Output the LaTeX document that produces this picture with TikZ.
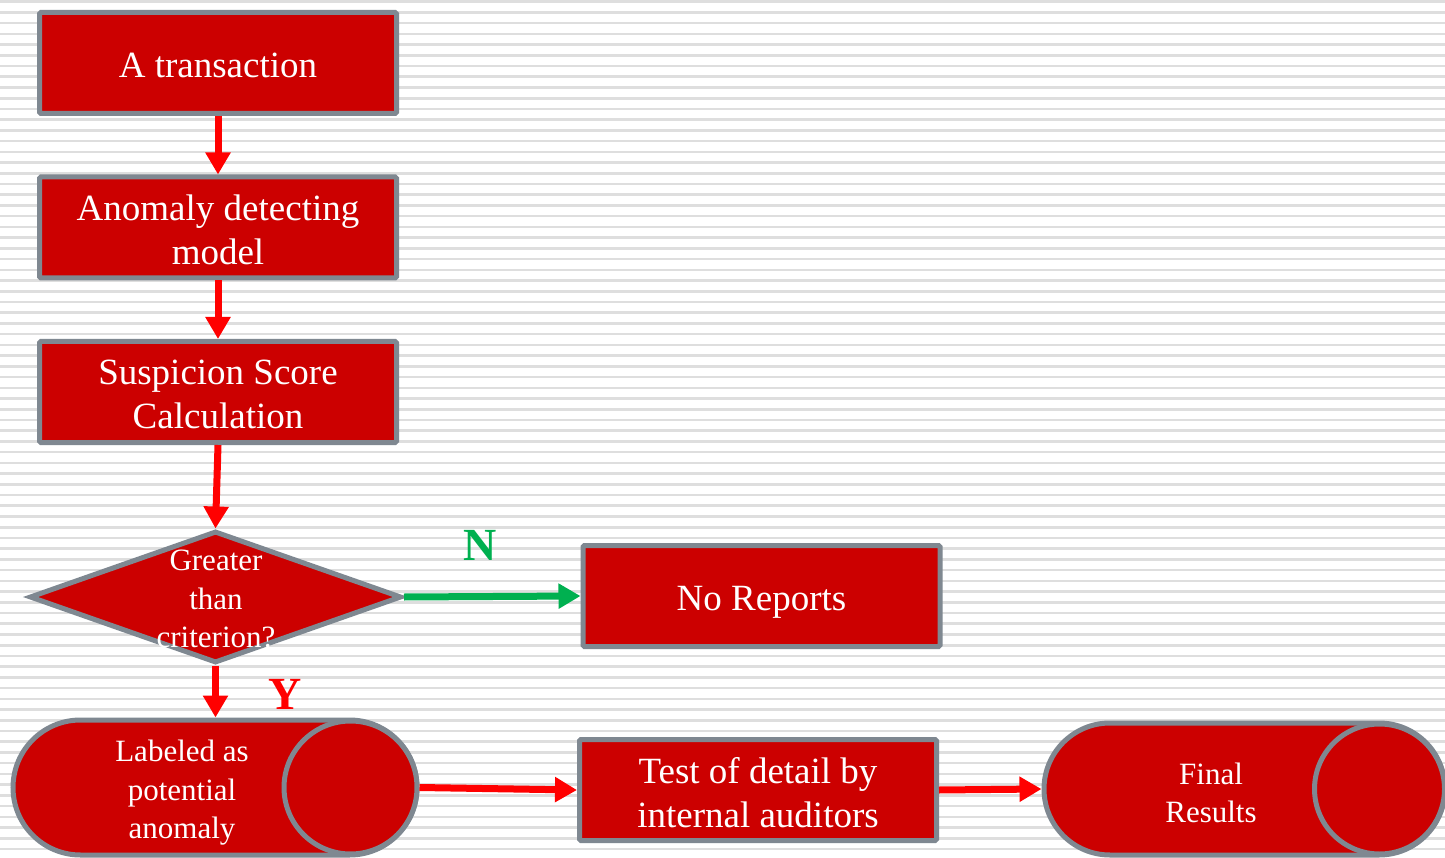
\documentclass[tikz,border=0pt]{standalone}
\usepackage{fontspec}
\setmainfont{Liberation Serif}
\usetikzlibrary{arrows.meta,shapes.geometric,shapes.misc}
\definecolor{boxred}{RGB}{204,0,0}
\definecolor{boxgray}{RGB}{127,136,145}
\definecolor{stripe}{RGB}{222,222,222}
\definecolor{arrred}{RGB}{255,0,0}
\definecolor{arrgreen}{RGB}{0,176,80}
\begin{document}
\begin{tikzpicture}[x=1pt,y=-1pt,
  procbox/.style={draw=boxgray,fill=boxred,line width=5pt,rounded corners=1.5pt,minimum width=357pt,minimum height=101pt,inner sep=0pt},
  bigtext/.style={text=white,align=center,inner sep=0pt,font=\fontsize{37}{44}\selectfont},
  decbox/.style={draw=boxgray,fill=boxred,line width=5pt,shape=diamond,minimum width=372pt,minimum height=132pt,inner sep=0pt},
  pill/.style={draw=boxgray,fill=boxred,line width=5pt,shape=rounded rectangle,inner sep=0pt},
  endcirc/.style={draw=boxgray,fill=boxred,line width=5pt,shape=circle,inner sep=0pt},
  smalltext/.style={text=white,align=center,inner sep=0pt,font=\fontsize{31}{38.5}\selectfont},
  redarrow/.style={draw=arrred,line width=7pt,-{Triangle[width=24pt,length=22pt]}},
  greenarrow/.style={draw=arrgreen,line width=7pt,-{Triangle[width=24pt,length=22pt]}},
  yn/.style={font=\fontsize{46}{46}\selectfont\bfseries}
]
\useasboundingbox (0,0) rectangle (1445,858);
\fill[white] (0,0) rectangle (1445,858);
\foreach \i in {0,...,80}{
  \draw[stripe,line width=2.6pt] (0,{1.7+10.725*\i}) -- (1445,{1.7+10.725*\i});
}
% boxes
\node[procbox] (trans) at (218,63) {};
\node[bigtext] (transtext) at (218,65.5) {A transaction};
\node[procbox] (model) at (218,227.5) {};
\node[bigtext] (modeltext) at (218,229.5) {Anomaly detecting\\model};
\node[procbox] (score) at (218,392) {};
\node[bigtext] (scoretext) at (218,394.5) {Suspicion Score\\Calculation};
\node[decbox] (dec) at (215.5,597) {};
\node[smalltext] (dectext) at (216,599) {Greater\\than\\criterion?};
\node[procbox] (norep) at (761.5,596) {};
\node[bigtext] (noreptext) at (761.5,602) {No Reports};
\node[pill,minimum width=404pt,minimum height=135pt] (label) at (215,787.5) {};
\node[endcirc,minimum size=133pt] (labelc) at (350.5,787.5) {};
\node[smalltext] (labeltext) at (182,793) {Labeled as\\potential\\anomaly};
\node[procbox] (test) at (758,790) {};
\node[bigtext] (testtext) at (758,792.5) {Test of detail by\\internal auditors};
\node[pill,minimum width=401pt,minimum height=132pt] (final) at (1244.5,789) {};
\node[endcirc,minimum size=130pt] (finalc) at (1379.5,789) {};
\node[smalltext] (finaltext) at (1211,793) {Final\\Results};
% arrows
\draw[redarrow] (trans.south) -- (model.north);
\draw[redarrow] (model.south) -- (score.north);
\draw[redarrow] (score.south) -- (dec.north);
\draw[redarrow] (dec.south) -- (label.north -| dec.south);
\draw[greenarrow] (dec.east) -- (norep.west);
\draw[redarrow] (label.east) -- (test.west);
\draw[redarrow] (test.east) -- (final.west);
% labels
\node[yn,text=arrgreen] (nlab) at (480,545) {N};
\node[yn,text=arrred] (ylab) at (285,694) {Y};
\end{tikzpicture}
\end{document}
